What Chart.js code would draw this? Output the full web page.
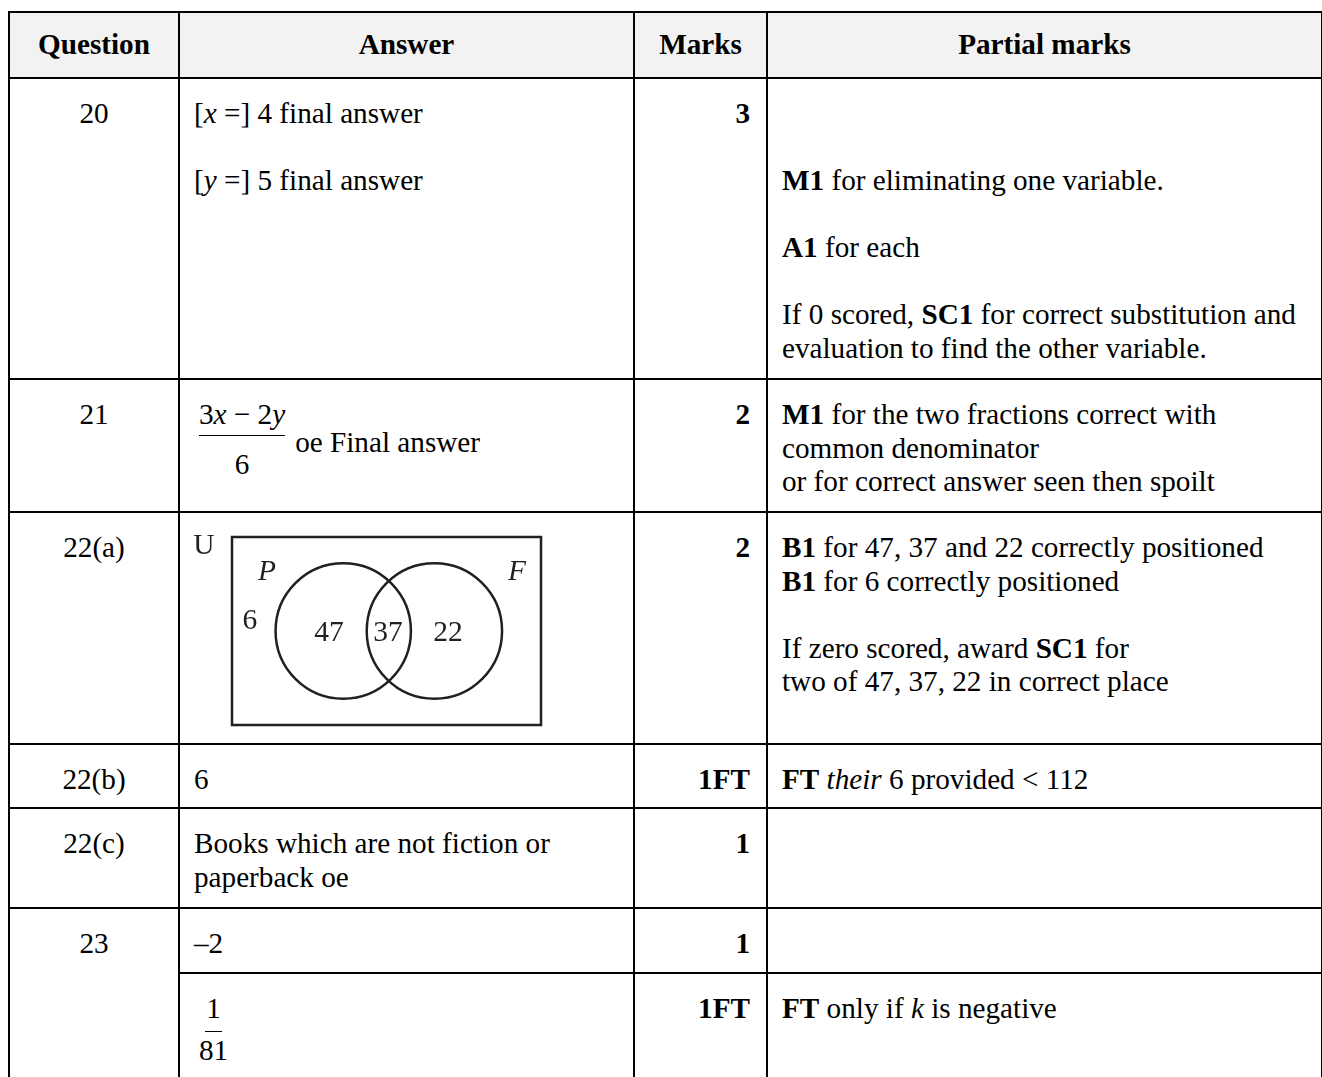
<!DOCTYPE html>
<html>
<head>
<meta charset="utf-8">
<script src="https://cdn.jsdelivr.net/npm/chart.js@4/dist/chart.umd.min.js"></script>
<style>
html, body { margin: 0; background: #fff; overflow: hidden; }
body {
  width: 1322px; height: 1077px; position: relative;
  font-family: "Liberation Serif", "Times New Roman", serif;
  font-size: 29.2px; line-height: 33.5px; color: #000;
}
table {
  position: absolute; left: 8px; top: 11px;
  border-collapse: collapse; table-layout: fixed; width: 1313px;
}
td, th { border: 2px solid #000; vertical-align: top; padding: 18px 13px 0 14px; }
th { background: #f2f2f2; font-weight: bold; text-align: center; vertical-align: middle; padding: 0; }
td.q { text-align: center; padding-left: 0; padding-right: 0; }
td.m { text-align: right; font-weight: bold; padding-right: 16px; }
p { margin: 0; }
.blank { height: 33.5px; }
.fracrow { display: flex; align-items: center; }
.frac { display: inline-flex; flex-direction: column; align-items: center; margin-left: 5px; }
.f1 .num { border-bottom: 1.5px solid #000; padding: 0 0 3px; }
.f1 .den { padding-top: 12px; }
.f2 .num { border-bottom: 1.5px solid #000; padding: 0 1px 5px; }
.f2 .den { padding-top: 2px; }
.after { margin-left: 10px; position: relative; top: 3px; }
.venn-cell { position: relative; }
.venn-box { position: absolute; left: 0; top: 0; width: 380px; height: 230px; }
</style>
</head>
<body>

<table>
  <colgroup>
    <col style="width:170px"><col style="width:455px"><col style="width:133px"><col style="width:555px">
  </colgroup>
  <tr style="height:66px">
    <th>Question</th><th>Answer</th><th>Marks</th><th>Partial marks</th>
  </tr>
  <tr style="height:301px">
    <td class="q">20</td>
    <td>
      <p>[<i>x</i> =] 4 final answer</p>
      <div class="blank"></div>
      <p>[<i>y</i> =] 5 final answer</p>
    </td>
    <td class="m">3</td>
    <td>
      <div class="blank"></div>
      <div class="blank"></div>
      <p><b>M1</b> for eliminating one variable.</p>
      <div class="blank"></div>
      <p><b>A1</b> for each</p>
      <div class="blank"></div>
      <p>If 0 scored, <b>SC1</b> for correct substitution and<br>evaluation to find the other variable.</p>
    </td>
  </tr>
  <tr style="height:133px">
    <td class="q">21</td>
    <td>
      <div class="fracrow">
        <span class="frac f1"><span class="num">3<i>x</i> − 2<i>y</i></span><span class="den">6</span></span>
        <span class="after">oe Final answer</span>
      </div>
    </td>
    <td class="m">2</td>
    <td><b>M1</b> for the two fractions correct with<br>common denominator<br>or for correct answer seen then spoilt</td>
  </tr>
  <tr style="height:232px">
    <td class="q">22(a)</td>
    <td class="venn-cell"><div class="venn-box"><canvas id="venn"></canvas></div></td>
    <td class="m">2</td>
    <td>
      <p><b>B1</b> for 47, 37 and 22 correctly positioned<br><b>B1</b> for 6 correctly positioned</p>
      <div class="blank"></div>
      <p>If zero scored, award <b>SC1</b> for<br>two of 47, 37, 22 in correct place</p>
    </td>
  </tr>
  <tr style="height:64px">
    <td class="q">22(b)</td>
    <td>6</td>
    <td class="m">1FT</td>
    <td><b>FT</b> <i>their</i> 6 provided &lt; 112</td>
  </tr>
  <tr style="height:100px">
    <td class="q">22(c)</td>
    <td>Books which are not fiction or<br>paperback oe</td>
    <td class="m">1</td>
    <td></td>
  </tr>
  <tr style="height:65px">
    <td class="q" rowspan="2">23</td>
    <td>–2</td>
    <td class="m">1</td>
    <td></td>
  </tr>
  <tr style="height:115px">
    <td>
      <span class="frac f2"><span class="num">1</span><span class="den">81</span></span>
    </td>
    <td class="m">1FT</td>
    <td><b>FT</b> only if <i>k</i> is negative</td>
  </tr>
</table>

<script>
// Venn diagram for 22(a), in its own units: x 0..100, y 0..61 (rectangle = U)
const setNames = ['P', 'F'];
const setCentreX = [36, 65.5];
const setCentreY = [30.5, 30.5];
const setRadius = [21.9, 21.9];
const setLabelX = [11.3, 92.2];
const setLabelY = [49.7, 49.7];

const regionCounts = ['6', '47', '37', '22'];   // outside, P only, P and F, F only
const regionX = [5.8, 31.4, 50.5, 69.9];
const regionY = [33.8, 29.9, 29.9, 29.9];

const universeName = 'U';
const universeX = -9.1;
const universeY = 58.1;

const ink = '#231f20';

// rectangle + text labels drawn through the chart scales
const vennText = {
  id: 'vennText',
  beforeDatasetsDraw(chart) {
    const { ctx, chartArea: a } = chart;
    ctx.save();
    ctx.lineWidth = 2.5;
    ctx.strokeStyle = ink;
    ctx.strokeRect(a.left, a.top, a.right - a.left, a.bottom - a.top);
    ctx.restore();
  },
  afterDatasetsDraw(chart) {
    const { ctx, scales: { x, y } } = chart;
    ctx.save();
    ctx.fillStyle = ink;
    ctx.textAlign = 'center';
    ctx.textBaseline = 'middle';
    ctx.font = '29.5px "Liberation Serif"';
    ctx.fillText(universeName, x.getPixelForValue(universeX), y.getPixelForValue(universeY));
    regionCounts.forEach((t, i) => {
      ctx.fillText(t, x.getPixelForValue(regionX[i]), y.getPixelForValue(regionY[i]));
    });
    ctx.font = 'italic 29.5px "Liberation Serif"';
    setNames.forEach((t, i) => {
      ctx.fillText(t, x.getPixelForValue(setLabelX[i]), y.getPixelForValue(setLabelY[i]));
    });
    ctx.restore();
  }
};

new Chart(document.getElementById('venn'), {
  type: 'scatter',
  data: {
    datasets: [{
      data: setCentreX.map((cx, i) => ({ x: cx, y: setCentreY[i] })),
      pointBackgroundColor: 'rgba(0,0,0,0)',
      pointBorderColor: ink,
      pointBorderWidth: 2.5,
      pointRadius: c => {
        const sx = c.chart.scales.x;
        const i = c.dataIndex;
        return sx.getPixelForValue(setCentreX[i] + setRadius[i]) - sx.getPixelForValue(setCentreX[i]);
      }
    }]
  },
  options: {
    responsive: true,
    maintainAspectRatio: false,
    animation: false,
    events: [],
    layout: { padding: { left: 52, top: 24, right: 19, bottom: 18 } },
    plugins: { legend: { display: false }, tooltip: { enabled: false } },
    scales: {
      x: { type: 'linear', min: 0, max: 100, display: false },
      y: { type: 'linear', min: 0, max: 61, display: false }
    }
  },
  plugins: [vennText]
});
</script>
</body>
</html>
